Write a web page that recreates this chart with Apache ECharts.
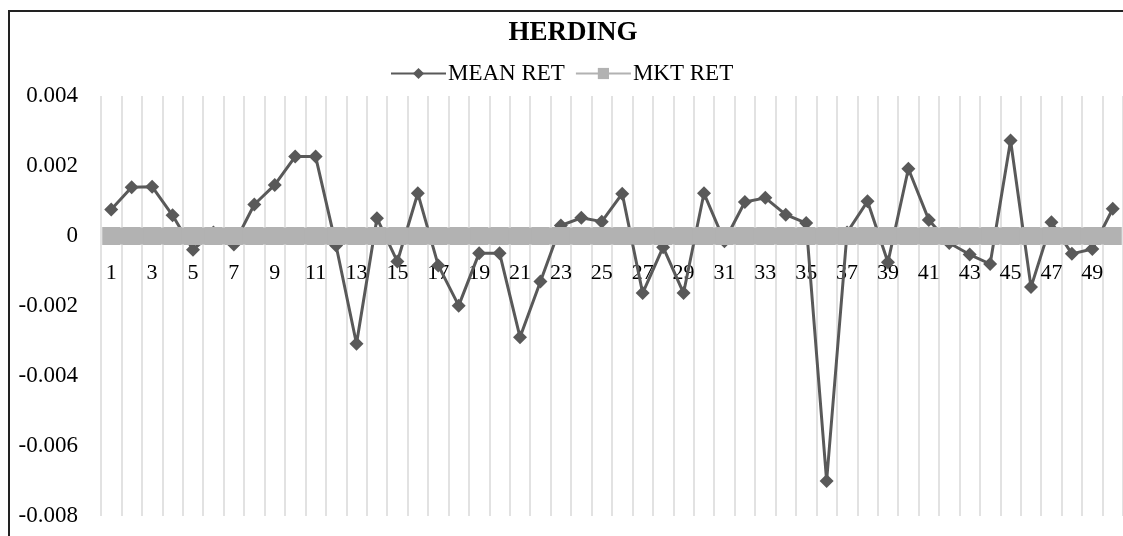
<!DOCTYPE html>
<html>
<head>
<meta charset="utf-8">
<script src="https://cdn.jsdelivr.net/npm/echarts@6/dist/echarts.min.js"></script>
<style>
  html, body { margin: 0; padding: 0; background: #fff; overflow: hidden; }
  #chart { width: 1123px; height: 536px; }
</style>
</head>
<body>
<div id="chart"></div>
<script>
// categories 1..50
const days = ['1','2','3','4','5','6','7','8','9','10',
  '11','12','13','14','15','16','17','18','19','20',
  '21','22','23','24','25','26','27','28','29','30',
  '31','32','33','34','35','36','37','38','39','40',
  '41','42','43','44','45','46','47','48','49','50'];

// MEAN RET
const meanRet = [0.00076, 0.00139, 0.00141, 0.00059, -0.00039, 0.0001, -0.00024, 0.0009, 0.00146, 0.00227,
  0.00227, -0.00027, -0.00308, 0.00051, -0.00073, 0.00122, -0.00084, -0.00199, -0.00049, -0.00049,
  -0.00289, -0.0013, 0.0003, 0.00052, 0.00041, 0.00121, -0.00163, -0.00032, -0.00163, 0.00122,
  -0.00015, 0.00097, 0.00109, 0.00061, 0.00037, -0.0070, 0.0001, 0.00099, -0.00075, 0.00192,
  0.00046, -0.0002, -0.00053, -0.0008, 0.00273, -0.00146, 0.00039, -0.00051, -0.00037, 0.00078];

// MKT RET sits flat on zero
const mktRet = [0, 0, 0, 0, 0, 0, 0, 0, 0, 0,
  0, 0, 0, 0, 0, 0, 0, 0, 0, 0,
  0, 0, 0, 0, 0, 0, 0, 0, 0, 0,
  0, 0, 0, 0, 0, 0, 0, 0, 0, 0,
  0, 0, 0, 0, 0, 0, 0, 0, 0, 0];

const yTicks = { min: -0.008, max: 0.004, interval: 0.002 };

const font = '"Liberation Serif", "Times New Roman", serif';

// plot box: top 96, bottom 516 -> zero line sits 3 steps of 70px above the bottom
const gridTop = 96, gridBottom = 20, plotH = 536 - gridTop - gridBottom;
const zeroOffset = -plotH * (0 - yTicks.min) / (yTicks.max - yTicks.min);

const chart = echarts.init(document.getElementById('chart'));
chart.setOption({
  animation: false,
  backgroundColor: '#fff',
  title: {
    text: 'HERDING',
    left: 568,
    textAlign: 'center',
    top: 15,
    textStyle: { fontFamily: font, fontWeight: 'bold', fontSize: 27, color: '#000' }
  },
  legend: {
    left: 385,
    top: 57,
    itemWidth: 55,
    itemHeight: 14,
    itemGap: 10,
    textStyle: { fontFamily: font, fontSize: 23, color: '#000', padding: [0, 0, 0, -3] },
    data: ['MEAN RET', 'MKT RET']
  },
  graphic: [{
    type: 'polyline',
    shape: { points: [[9, 540], [9, 11], [1130, 11]] },
    style: { fill: null, stroke: '#222', lineWidth: 2 },
    silent: true
  }],
  grid: { left: 101, right: 0, top: gridTop, bottom: gridBottom },
  xAxis: {
    type: 'category',
    data: days,
    boundaryGap: true,
    offset: zeroOffset,
    axisLine: { show: false, onZero: false },
    axisTick: { show: false, interval: 0 },
    axisLabel: { interval: 1, margin: 26, fontFamily: font, fontSize: 22, color: '#000' },
    splitLine: { show: true, interval: 0, lineStyle: { color: '#d9d9d9', width: 1.5 } }
  },
  yAxis: {
    type: 'value',
    min: yTicks.min,
    max: yTicks.max,
    interval: yTicks.interval,
    axisLine: { show: false },
    axisTick: { show: false },
    splitLine: { show: false },
    axisLabel: { margin: 23, fontFamily: font, fontSize: 23, color: '#000' }
  },
  series: [
    {
      name: 'MEAN RET',
      type: 'line',
      data: meanRet,
      symbol: 'diamond',
      symbolSize: 14,
      showAllSymbol: true,
      itemStyle: { color: '#595959' },
      lineStyle: { color: '#595959', width: 3 }
    },
    {
      name: 'MKT RET',
      type: 'line',
      data: mktRet,
      symbol: 'rect',
      symbolSize: 18,
      showAllSymbol: true,
      itemStyle: { color: '#b2b2b2' },
      lineStyle: { color: '#b2b2b2', width: 17 }
    }
  ]
});
</script>
</body>
</html>
